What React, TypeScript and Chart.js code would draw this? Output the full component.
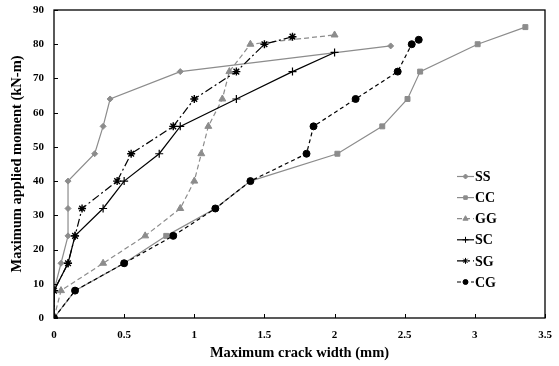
import React, { useEffect, useRef } from "react";
import { Chart, registerables } from "chart.js";
import { drawPoint } from "chart.js/helpers";

Chart.register(...registerables);

const xTicks = [0, 0.5, 1, 1.5, 2, 2.5, 3, 3.5];
const yTicks = [0, 10, 20, 30, 40, 50, 60, 70, 80, 90];

const ssX = [0, 0, 0.05, 0.1, 0.1, 0.1, 0.29, 0.35, 0.4, 0.9, 2.4];
const ssY = [0, 8, 16, 24, 32, 40, 48, 56, 64, 72, 79.5];

const ccX = [0, 0.15, 0.5, 0.8, 1.15, 1.4, 2.02, 2.34, 2.52, 2.61, 3.02, 3.36];
const ccY = [0, 8, 16, 24, 32, 40, 48, 56, 64, 72, 80, 85];

const ggX = [0, 0.05, 0.35, 0.65, 0.9, 1.0, 1.05, 1.1, 1.2, 1.25, 1.4, 2.0];
const ggY = [0, 8, 16, 24, 32, 40, 48, 56, 64, 72, 80, 82.7];

const scX = [0, 0, 0.1, 0.15, 0.35, 0.5, 0.75, 0.9, 1.3, 1.7, 2.0];
const scY = [0, 8, 16, 24, 32, 40, 48, 56, 64, 72, 77.6];

const sgX = [0, 0, 0.1, 0.15, 0.2, 0.45, 0.55, 0.85, 1.0, 1.3, 1.5, 1.7];
const sgY = [0, 8, 16, 24, 32, 40, 48, 56, 64, 72, 80, 82.2];

const cgX = [0, 0.15, 0.5, 0.85, 1.15, 1.4, 1.8, 1.85, 2.15, 2.45, 2.55, 2.6];
const cgY = [0, 8, 16, 24, 32, 40, 48, 56, 64, 72, 80, 81.3];

const labels = ["SS", "CC", "GG", "SC", "SG", "CG"];

const GREY = "#8c8c8c";
const BLACK = "#000000";
const FONT = "'Liberation Serif', 'Times New Roman', serif";

const pts = (xs: number[], ys: number[]) => xs.map((x, i) => ({ x, y: ys[i] }));

const zeroPad = (s: any) => {
  s.paddingTop = 0;
  s.paddingBottom = 0;
  s.paddingLeft = 0;
  s.paddingRight = 0;
};

export default function App() {
  const ref = useRef<HTMLCanvasElement | null>(null);

  useEffect(() => {
    document.body.style.margin = "0";
    const canvas = ref.current;
    if (!canvas) return;

    const frame = {
      id: "frame",
      afterDraw(chart: any) {
        const { ctx, chartArea } = chart;
        const { left, right, top, bottom } = chartArea;
        const xs = chart.scales.x;
        const ys = chart.scales.y;
        ctx.save();
        ctx.strokeStyle = "#000";
        ctx.lineWidth = 1.3;
        ctx.setLineDash([]);
        ctx.strokeRect(left, top, right - left, bottom - top);
        ctx.lineWidth = 1;
        xTicks.forEach((v) => {
          const px = Math.round(xs.getPixelForValue(v)) + 0.5;
          ctx.beginPath();
          ctx.moveTo(px, bottom);
          ctx.lineTo(px, bottom - 4);
          ctx.stroke();
        });
        yTicks.forEach((v) => {
          const py = Math.round(ys.getPixelForValue(v)) + 0.5;
          ctx.beginPath();
          ctx.moveTo(left, py);
          ctx.lineTo(left + 4, py);
          ctx.stroke();
        });
        // legend
        const lx0 = 457;
        const lx1 = 474;
        let ly = 176.5;
        const sets = [...chart.data.datasets].sort((a: any, b: any) => a.legendIndex - b.legendIndex);
        sets.forEach((ds: any) => {
          ctx.save();
          ctx.strokeStyle = ds.borderColor;
          ctx.lineWidth = 1.2;
          ctx.setLineDash(ds.borderDash || []);
          ctx.beginPath();
          ctx.moveTo(lx0, ly);
          ctx.lineTo(lx1, ly);
          ctx.stroke();
          ctx.setLineDash([]);
          ctx.fillStyle = ds.pointBackgroundColor;
          ctx.strokeStyle = ds.pointBorderColor;
          ctx.lineWidth = 1;
          drawPoint(ctx, {
            pointStyle: ds.pointStyle,
            radius: Math.max(ds.pointRadius - 1, 2.5),
            rotation: 0,
            borderWidth: 1,
          }, (lx0 + lx1) / 2, ly);
          ctx.fillStyle = "#000";
          ctx.font = `bold 14px ${FONT}`;
          ctx.textAlign = "left";
          ctx.textBaseline = "middle";
          ctx.fillText(ds.label, lx1 + 1, ly + 1);
          ctx.restore();
          ly += 21.1;
        });
        ctx.restore();
      },
    };

    const mk = (idx: number, data: any[], color: string, style: string, radius: number, dash: number[], order: number, ptBorder?: number) => ({
      label: labels[idx],
      legendIndex: idx,
      order,
      data,
      borderColor: color,
      backgroundColor: color,
      pointBackgroundColor: color,
      pointBorderColor: color,
      pointBorderWidth: ptBorder ?? 1,
      pointStyle: style,
      pointRadius: radius,
      borderWidth: 1.2,
      borderDash: dash,
      showLine: true,
      tension: 0,
    });

    const chart = new Chart(canvas, {
      type: "scatter",
      data: {
        datasets: [
          mk(0, pts(ssX, ssY), GREY, "rectRot", 3, [], 5),
          mk(1, pts(ccX, ccY), GREY, "rect", 3.5, [], 4),
          mk(2, pts(ggX, ggY), GREY, "triangle", 4, [5, 3], 3),
          mk(3, pts(scX, scY), BLACK, "cross", 4, [], 2, 1.2),
          mk(4, pts(sgX, sgY), BLACK, "star", 4, [8, 3, 2, 3], 1, 1.4),
          mk(5, pts(cgX, cgY), BLACK, "circle", 3.5, [4, 3], 0),
        ],
      },
      options: {
        animation: false,
        responsive: false,
        maintainAspectRatio: false,
        layout: { padding: { left: 0, right: 14, top: 10, bottom: 0 } },
        plugins: { legend: { display: false }, tooltip: { enabled: false } },
        scales: {
          x: {
            type: "linear",
            min: 0,
            max: 3.5,
            afterFit: (s: any) => { s.height = 48; zeroPad(s); },
            afterBuildTicks: (s: any) => { s.ticks = xTicks.map((v) => ({ value: v })); },
            ticks: { callback: (v: any) => String(v), padding: 11, color: "#000", font: { family: FONT, size: 11, weight: "bold" } },
            grid: { display: false, drawTicks: false },
            border: { display: false },
            title: { display: true, text: "Maximum crack width (mm)", color: "#000", padding: { top: 0, bottom: 4 }, font: { family: FONT, size: 14.5, weight: "bold" } },
          },
          y: {
            type: "linear",
            min: 0,
            max: 90,
            afterFit: (s: any) => { s.width = 54; zeroPad(s); },
            afterBuildTicks: (s: any) => { s.ticks = yTicks.map((v) => ({ value: v })); },
            ticks: { callback: (v: any) => String(v), padding: 10, color: "#000", font: { family: FONT, size: 11, weight: "bold" } },
            grid: { display: false, drawTicks: false },
            border: { display: false },
            title: { display: true, text: "Maximum applied moment (kN-m)", color: "#000", padding: { top: 9, bottom: 0 }, font: { family: FONT, size: 14.5, weight: "bold" } },
          },
        },
      } as any,
      plugins: [frame],
    });

    return () => chart.destroy();
  }, []);

  return (
    <div style={{ width: 559, height: 366 }}>
      <canvas ref={ref} width={559} height={366} />
    </div>
  );
}
